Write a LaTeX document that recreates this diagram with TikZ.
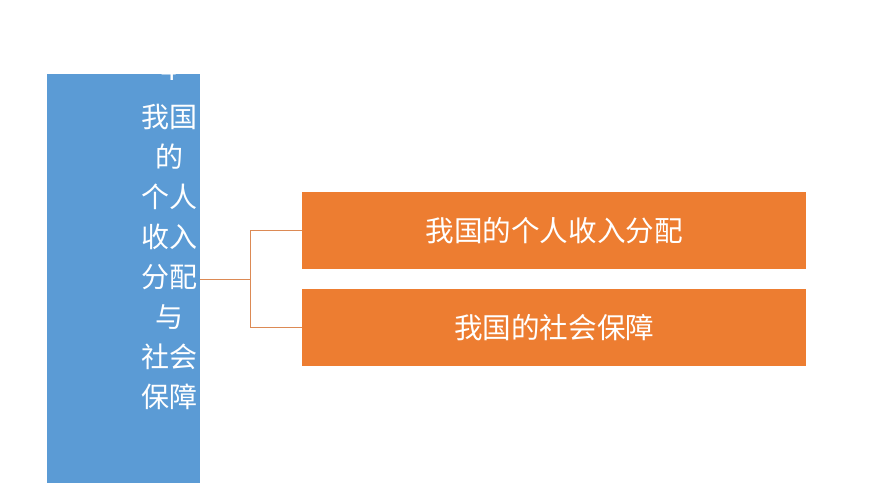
\documentclass[tikz,border=0pt]{standalone}
\usepackage{fontspec}
\newfontfamily\cjk{Noto Sans CJK SC}
\definecolor{boxblue}{HTML}{5B9BD5}
\definecolor{boxorange}{HTML}{ED7D31}
\definecolor{linkorange}{HTML}{DC8A55}
\begin{document}
\begin{tikzpicture}[x=1pt,y=-1pt,
  bluebox/.style={fill=boxblue,draw=none,inner sep=0pt,minimum width=153pt,minimum height=409pt,anchor=north west},
  orangebox/.style={fill=boxorange,draw=none,inner sep=0pt,minimum width=504pt,minimum height=77pt,anchor=north west},
  boxtext/.style={text=white,font=\cjk\fontsize{28.6}{28.6}\selectfont,inner sep=0pt},
  vtext/.style={text=white,font=\cjk\fontsize{28}{28}\selectfont,inner sep=0pt},
  link/.style={draw=linkorange,line width=0.9pt}]
\useasboundingbox (0,0) rectangle (870,489);
\fill[white] (0,0) rectangle (870,489);
\node[bluebox] (side) at (47,74) {};
\begin{scope}
\clip (47,74) rectangle (200,483);
\node[vtext] (t0) at (169,71) {4};
\node[vtext] (t1) at (169,117) {我国};
\node[vtext] (t2) at (169,157) {的};
\node[vtext] (t3) at (169,197) {个人};
\node[vtext] (t4) at (169,237) {收入};
\node[vtext] (t5) at (169,277) {分配};
\node[vtext] (t6) at (169,317) {与};
\node[vtext] (t7) at (169,357) {社会};
\node[vtext] (t8) at (169,397) {保障};
\end{scope}
\node[orangebox] (b1) at (302,192) {};
\node[boxtext] (l1) at (b1.center) {我国的个人收入分配};
\node[orangebox] (b2) at (302,289) {};
\node[boxtext] (l2) at (b2.center) {我国的社会保障};
\coordinate (fork) at (250,279);
\draw[link] (side.east |- fork) -- (fork);
\draw[link] (fork) |- (b1.west);
\draw[link] (fork) |- (b2.west);
\end{tikzpicture}
\end{document}
